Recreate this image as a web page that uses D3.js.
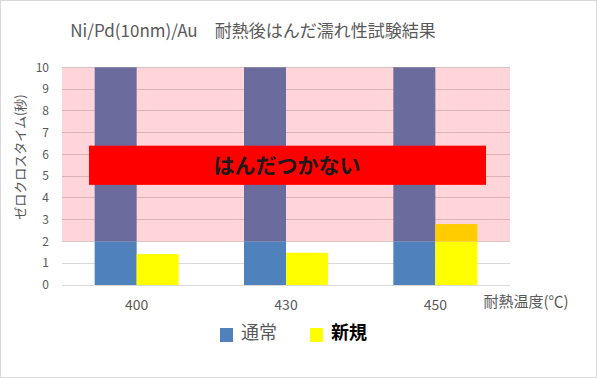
<!DOCTYPE html>
<html><head><meta charset="utf-8">
<script src="https://cdn.jsdelivr.net/npm/d3@7"></script>
<style>body{margin:0;background:#fff}svg{display:block;font-family:"Noto Sans CJK JP","Noto Sans",sans-serif}</style>
</head><body><svg id="c" width="597" height="378"></svg>
<script>
const categories = ["400", "430", "450"];
const normalValues = [10, 10, 10];
const newValues = [1.42, 1.48, 2.8];
const yTicks = [0,1,2,3,4,5,6,7,8,9,10];
const threshold = 2;
const ngRange = [4.6, 6.4];
const seriesNames = ["通常", "新規"];

const svg = d3.select("#c");
svg.append("rect").attr("x",0.5).attr("y",0.5).attr("width",596).attr("height",377).attr("fill","#fff").attr("stroke","#d9d9d9");

const m = {l:62, r:510, t:67.3, b:285};
const x = d3.scaleBand().domain(categories).range([m.l, m.r]).paddingInner(0).paddingOuter(0);
const y = d3.scaleLinear().domain([0,10]).range([m.b, m.t]);
const bw = 42;

// pink NG region
svg.append("rect").attr("x", m.l).attr("y", y(10)).attr("width", m.r-m.l).attr("height", y(threshold)-y(10)).attr("fill","#ffd5d9");

// gridlines
svg.append("g").selectAll("line").data(yTicks).join("line")
  .attr("x1", m.l).attr("x2", m.r).attr("y1", d=>y(d)).attr("y2", d=>y(d))
  .attr("stroke","rgba(0,0,0,0.15)").attr("stroke-width",1).attr("shape-rendering","crispEdges");

// bars
const series = [
  {vals: normalValues, off: -bw, low:"#4f81bd", high:"#6b6c9e"},
  {vals: newValues, off: 0, low:"#ffff00", high:"#ffcc00"}
];
series.forEach(s => {
  const g = svg.append("g");
  categories.forEach((c,i) => {
    const v = s.vals[i];
    const cx = x(c) + x.bandwidth()/2 + s.off;
    const lowTop = Math.min(v, threshold);
    g.append("rect").attr("x", cx).attr("width", bw).attr("y", y(lowTop)).attr("height", y(0)-y(lowTop)).attr("fill", s.low);
    if (v > threshold) {
      g.append("rect").attr("x", cx).attr("width", bw).attr("y", y(v)).attr("height", y(threshold)-y(v)).attr("fill", s.high);
    }
  });
});

// y axis labels
svg.append("g").selectAll("text").data(yTicks).join("text")
  .attr("x", 49).attr("y", d=>y(d)).attr("dy","0.35em").attr("text-anchor","end")
  .attr("font-size", 12).attr("fill","#595959").text(d=>d);

// y title
svg.append("text").attr("transform","translate(20,157) rotate(-90)").attr("text-anchor","middle")
  .attr("dy","0.35em").attr("font-size",13).attr("fill","#595959").text("ゼロクロスタイム(秒)");

// x labels
svg.append("g").selectAll("text").data(categories).join("text")
  .attr("x", d=>x(d)+x.bandwidth()/2).attr("y", 305).attr("dy","0.35em").attr("text-anchor","middle")
  .attr("font-size", 14).attr("fill","#595959").text(d=>d);
svg.append("text").attr("x", 526).attr("y", 302).attr("dy","0.35em").attr("text-anchor","middle")
  .attr("font-size", 15).attr("fill","#595959").text("耐熱温度(℃)");

// NG box
svg.append("rect").attr("x", 89).attr("width", 397).attr("y", y(ngRange[1])).attr("height", y(ngRange[0])-y(ngRange[1])).attr("fill","#ff0000");
svg.append("text").attr("x", 287).attr("y", y((ngRange[0]+ngRange[1])/2)).attr("dy","0.35em").attr("text-anchor","middle")
  .attr("font-size", 21).attr("font-weight","bold").attr("fill","#1a1a1a").text("はんだつかない");

// title
svg.append("text").attr("x", 253).attr("y", 31).attr("dy","0.35em").attr("text-anchor","middle")
  .attr("font-size", 17).attr("fill","#595959").attr("xml:space","preserve").text("Ni/Pd(10nm)/Au　耐熱後はんだ濡れ性試験結果");

// legend
const leg = [{name:seriesNames[0], c:"#4f81bd", x:220, tx:241, bold:false, col:"#595959"},
             {name:seriesNames[1], c:"#ffff00", x:310, tx:331, bold:true, col:"#000"}];
leg.forEach(l => {
  svg.append("rect").attr("x", l.x).attr("y", 328).attr("width", 13).attr("height", 14).attr("fill", l.c);
  svg.append("text").attr("x", l.tx).attr("y", 333).attr("dy","0.35em").attr("font-size", 18)
    .attr("font-weight", l.bold ? "bold":"normal").attr("fill", l.col).text(l.name);
});
</script></body></html>
